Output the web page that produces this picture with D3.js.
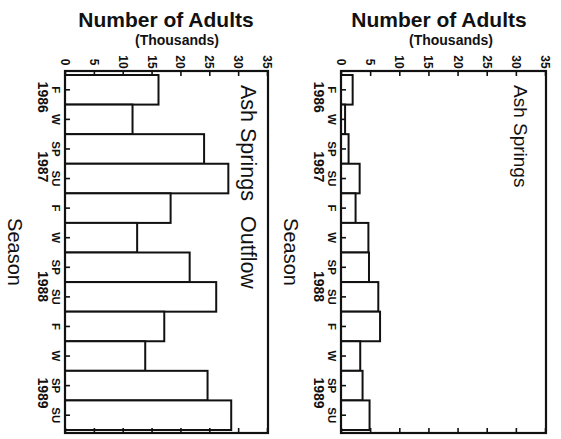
<!DOCTYPE html>
<html>
<head>
<meta charset="utf-8">
<script src="https://cdn.jsdelivr.net/npm/d3@7/dist/d3.min.js"></script>
<style>
  html, body { margin: 0; padding: 0; background: #fff; }
  svg { display: block; }
  text { font-family: "Liberation Sans", Arial, Helvetica, sans-serif; fill: #111; }
</style>
</head>
<body>
<svg id="chart" width="561" height="439"></svg>
<script>
// Seasons, Fall 1986 through Summer 1989
const seasonKeys = ["F86", "W86", "SP87", "SU87", "F87", "W87", "SP88", "SU88", "F88", "W88", "SP89", "SU89"];
const seasonLabels = ["F", "W", "SP", "SU", "F", "W", "SP", "SU", "F", "W", "SP", "SU"];
// Year labels, positioned in band units along the season axis
const yearLabels = ["1986", "1987", "1988", "1989"];
const yearPositions = [0.75, 3.1, 7.15, 10.75];

// Number of adults (thousands) per season
const outflowValues = [16.2, 11.7, 24.1, 28.3, 18.3, 12.5, 21.6, 26.2, 17.2, 13.9, 24.7, 28.8];
const springsValues = [2.0, 0.7, 1.3, 3.2, 2.5, 4.7, 4.8, 6.4, 6.7, 3.3, 3.7, 4.9];

const valueTicks = [0, 5, 10, 15, 20, 25, 30, 35];

const svg = d3.select("#chart");

function drawPanel(cfg) {
  const g = svg.append("g");
  const x = d3.scaleLinear().domain([0, 35]).range([cfg.left, cfg.right - 1]);
  const y = d3.scaleBand().domain(seasonKeys).range([75, 430]).padding(0);
  const top = 71, bottom = 433;

  // bars
  g.selectAll("rect.bar")
    .data(cfg.values)
    .join("rect")
    .attr("class", "bar")
    .attr("x", x(0))
    .attr("y", (d, i) => y(seasonKeys[i]))
    .attr("width", d => x(d) - x(0))
    .attr("height", y.bandwidth())
    .attr("fill", "#fff")
    .attr("stroke", "#111")
    .attr("stroke-width", 2);

  // value axis along the top and bottom, ticks pointing inward
  const topAxis = g.append("g")
    .attr("transform", `translate(0,${top})`)
    .call(d3.axisTop(x).tickValues(valueTicks).tickSize(-5).tickFormat(""));
  const bottomAxis = g.append("g")
    .attr("transform", `translate(0,${bottom})`)
    .call(d3.axisBottom(x).tickValues(valueTicks).tickSize(-5).tickFormat(""));
  // season axis on the left, ticks pointing inward
  const leftAxis = g.append("g")
    .attr("transform", `translate(${cfg.left},0)`)
    .call(d3.axisLeft(y).tickSize(-5).tickFormat(""));
  [topAxis, bottomAxis, leftAxis].forEach(a => {
    a.select(".domain").remove();
    a.selectAll(".tick line").attr("stroke", "#111").attr("stroke-width", 1.6);
  });

  // frame
  g.append("rect")
    .attr("x", cfg.left)
    .attr("y", top)
    .attr("width", cfg.right - cfg.left)
    .attr("height", bottom - top)
    .attr("fill", "none")
    .attr("stroke", "#111")
    .attr("stroke-width", 2.2);

  // rotated value tick labels
  g.selectAll("text.vtick")
    .data(valueTicks)
    .join("text")
    .attr("class", "vtick")
    .attr("transform", d => `translate(${x(d)},62) rotate(90)`)
    .attr("text-anchor", "middle")
    .attr("dominant-baseline", "central")
    .style("font-size", "12px")
    .style("font-weight", "bold")
    .text(d => d);

  // season labels
  g.selectAll("text.season")
    .data(seasonLabels)
    .join("text")
    .attr("class", "season")
    .attr("transform", (d, i) => `translate(${cfg.left - 9},${y(seasonKeys[i]) + y.bandwidth() / 2}) rotate(90)`)
    .attr("text-anchor", "middle")
    .attr("dominant-baseline", "central")
    .style("font-size", "11.5px")
    .style("font-weight", "bold")
    .text(d => d);

  // year labels
  g.selectAll("text.year")
    .data(yearLabels)
    .join("text")
    .attr("class", "year")
    .attr("transform", (d, i) => `translate(${cfg.left - 22},${75 + yearPositions[i] * y.bandwidth()}) rotate(90)`)
    .attr("text-anchor", "middle")
    .attr("dominant-baseline", "central")
    .style("font-size", "14px")
    .style("font-weight", "bold")
    .text(d => d);

  // axis titles
  g.append("text")
    .attr("x", cfg.titleX)
    .attr("y", 27)
    .attr("text-anchor", "middle")
    .style("font-size", "21px")
    .style("font-weight", "bold")
    .text("Number of Adults");
  g.append("text")
    .attr("x", cfg.subX)
    .attr("y", 45)
    .attr("text-anchor", "middle")
    .style("font-size", "14px")
    .style("font-weight", "bold")
    .text("(Thousands)");
  g.append("text")
    .attr("transform", `translate(${cfg.left - 50},252) rotate(90)`)
    .attr("text-anchor", "middle")
    .attr("dominant-baseline", "central")
    .style("font-size", "20px")
    .text("Season");

  // site name inside the plot
  const site = g.append("text")
    .attr("transform", `translate(${cfg.right - cfg.siteInset},85) rotate(90)`)
    .style("font-size", cfg.siteSize);
  site.append("tspan").attr("x", 0).text(cfg.site[0]);
  if (cfg.site[1]) site.append("tspan").attr("x", 131).text(cfg.site[1]);
}

drawPanel({
  left: 65, right: 268, values: outflowValues,
  titleX: 166, subX: 177, site: ["Ash Springs", "Outflow"], siteInset: 27, siteSize: "21.5px"
});
drawPanel({
  left: 341, right: 546, values: springsValues,
  titleX: 439, subX: 451, site: ["Ash Springs"], siteInset: 32, siteSize: "19px"
});
</script>
</body>
</html>
